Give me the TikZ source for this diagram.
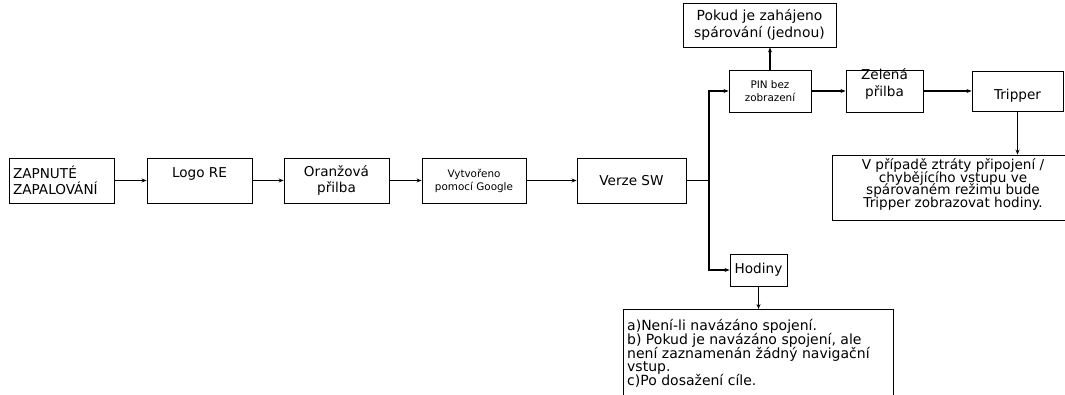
\documentclass[tikz,border=0pt]{standalone}
\usepackage{fontspec}
\setmainfont{DejaVu Sans}
\usetikzlibrary{arrows.meta}
\newcommand\squeezed[2]{\fontsize{#1}{#2}\selectfont\lineskiplimit=-100pt\relax}

\begin{document}
\begin{tikzpicture}[x=1pt,y=-1pt]
    \tikzset{
        block/.style={draw, line width=0.9pt, inner sep=0pt, align=center,
            font=\fontsize{13.6pt}{16.5pt}\selectfont},
        label/.style={inner sep=0pt, align=center, font=\fontsize{13.6pt}{16.5pt}\selectfont},
        small/.style={font=\fontsize{10.4pt}{13pt}\selectfont},
        tight/.style 2 args={font=\squeezed{#1}{#2}},
        arc/.style={-{Stealth[length=5pt,width=4pt]}, line width=1.3pt},
        link/.style={line width=1.3pt}
    }
    \useasboundingbox (0,0) rectangle (1065,394);
    \clip (0,0) rectangle (1065,394);

    % main row
    \draw node[block, minimum width=105pt, minimum height=45pt, text width=97pt, align=left] (zap) at (61.5,180.5) {ZAPNUTÉ\\ZAPALOVÁNÍ};
    \draw node[block, minimum width=105pt, minimum height=45pt] (logo) at (199.5,180.5) {};
    \node[label] (logotxt) at ([yshift=7pt]logo.center) {Logo RE};
    \draw node[block, minimum width=105pt, minimum height=45pt] (oranz) at (336.5,180.5) {Oranžová\\přilba};
    \draw node[block, small, minimum width=104pt, minimum height=45pt] (vytv) at (474,180.5) {Vytvořeno\\pomocí Google};
    \draw node[block, minimum width=109pt, minimum height=45pt] (verze) at (631.5,180.5) {Verze SW};
    \coordinate (fork) at (709,180.5);

    % upper branch
    \draw node[block, small, minimum width=82pt, minimum height=42pt] (pin) at (770,91) {PIN bez\\zobrazení};
    \draw node[block, font=\fontsize{13.9pt}{16.5pt}\selectfont, minimum width=153pt, minimum height=44pt] (pokud) at (759.5,25) {Pokud je zahájeno\\spárování (jednou)};
    \draw node[block, minimum width=77pt, minimum height=42pt] (zelena) at (884.5,91) {};
    \node[label] (zelenatxt) at ([yshift=7pt]zelena.center) {Zelená\\přilba};
    \draw node[block, minimum width=91pt, minimum height=40pt] (tripper) at (1017.5,91) {};
    \node[label] (trippertxt) at ([yshift=-5pt]tripper.center) {Tripper};
    \draw node[block, minimum width=242pt, minimum height=65pt] (ztrata) at (953,187.5) {};
    \node[label, tight={13.6pt}{12.8pt}] (ztratatxt) at ([yshift=3pt]ztrata.center) {V případě ztráty připojení /\\chybějícího vstupu ve\\spárovaném režimu bude\\Tripper zobrazovat hodiny.};

    % lower branch
    \draw node[block, minimum width=57pt, minimum height=32pt] (hodiny) at (758.5,270) {Hodiny};
    \draw node[block, minimum width=270pt, minimum height=100pt, anchor=north west] (pripady) at (623,309) {};
    \node[label, anchor=north west, align=left, tight={14pt}{13.8pt}] (pripadytxt) at (627,319) {a)Není-li navázáno spojení.\\b) Pokud je navázáno spojení, ale\\není zaznamenán žádný navigační\\vstup.\\c)Po dosažení cíle.};

    \draw[arc] (zap) -- (logo);
    \draw[arc] (logo) -- (oranz);
    \draw[arc] (oranz) -- (vytv);
    \draw[arc] (vytv) -- (verze);
    \draw[link] (verze) -- (fork);
    \draw[arc] (fork) |- (pin);
    \draw[arc] (fork) |- (hodiny);
    \draw[arc] (pin.north) -- (pin.north |- pokud.south);
    \draw[arc] (pin) -- (zelena);
    \draw[arc] (zelena) -- (tripper);
    \draw[arc] (tripper) -- (tripper |- ztrata.north);
    \draw[arc] (hodiny) -- (hodiny |- pripady.north);
\end{tikzpicture}
\end{document}
